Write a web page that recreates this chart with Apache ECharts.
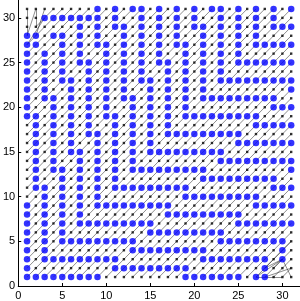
<!DOCTYPE html>
<html><head><meta charset="utf-8">
<script src="https://cdn.jsdelivr.net/npm/echarts@6/dist/echarts.min.js"></script>
<style>html,body{margin:0;padding:0;background:#fff}#c{width:300px;height:301px}</style>
</head><body><div id="c"></div>
<script>
const tickValues = [0, 5, 10, 15, 20, 25, 30];
// rows from y=31 (top) to y=1 (bottom); columns x=1..31; 'B' = blue point, '.' = black point
const pointRows = [
"........B.B.BB.B.B.B.BB.B.B.B.B",
"..BBBBBBB.B..B.B.B.B..B.B.B.B..",
"......B.B.BB.B.B.B.BB.B.B.B.BBB",
"BB.BB.B.B..B.B.B.B..B.B.B.B....",
"BB..B.B.BB.B.B.B.BB.B.B.B.BBBBB",
"B.B.B.B..B.B.B.B..B.B.B.B......",
"B.B.B.BB.B.B.B.BB.B.B.B.BBBBBBB",
"B.B.B..B.B.B.B..B.B.B.B........",
"B.B.BB.B.B.B.BB.B.B.B.BBBBBBBBB",
"B.B..B.B.B.B..B.B.B.B.........B",
"B.BB.B.B.B.BB.B.B.B.BBBBBBBBB..",
"B..B.B.B.B..B.B.B.B.........BBB",
"BB.B.B.B.BB.B.B.B.BBBBBBBBB....",
".B.B.B.B..B.B.B.B.........BBBBB",
".B.B.B.BB.B.B.B.BBBBBBBBB......",
".B.B.B..B.B.B.B.........BBBBBBB",
".B.B.BB.B.B.B.BBBBBBBBB........",
".B.B..B.B.B.B.........BBBBBBBBB",
".B.BB.B.B.B.BBBBBBBBB.........B",
".B..B.B.B.B.........BBBBBBBBB..",
".BB.B.B.B.BBBBBBBBB.........BBB",
"..B.B.B.B.........BBBBBBBBB....",
"B.B.B.B.BBBBBBBBB.........BBBBB",
"B.B.B.B.........BBBBBBBBB......",
"B.B.B.BBBBBBBBB.........BBBBBBB",
"B.B.B.........BBBBBBBBB........",
"B.B.BBBBBBBBB.........BBBBBBBB.",
"B.B.........BBBBBBBBB........B.",
"B.BBBBBBBBB.........BBBBBBBB.B.",
"B.........BBBBBBBBB........B...",
"BBBBBBBBB.........BBBBBBB.BB..."
];
// diagonal link lines [x1, y1, x2, y2]
const diagonalLines = [
[1,27,5,31],[1,26,6,31],[1,25,7,31],[1,24,8,31],[1,23,9,31],[1,22,10,31],[1,21,11,31],
[1,20,12,31],[1,19,13,31],[1,18,14,31],[1,17,15,31],[1,16,16,31],[1,15,17,31],[1,14,18,31],[1,13,19,31],[1,12,20,31],[1,11,21,31],
[1,10,22,31],[1,9,23,31],[1,8,24,31],[1,7,25,31],[1,6,26,31],[1,5,27,31],[1,4,28,31],[1,3,29,31],[1,2,30,31],[1,1,31,31],
[2,1,31,30],[3,1,31,29],[4,1,31,28],[5,1,31,27],[6,1,31,26],[7,1,31,25],[8,1,31,24],[9,1,31,23],[10,1,31,22],[11,1,31,21],
[12,1,31,20],[13,1,31,19],[14,1,31,18],[15,1,31,17],[16,1,31,16],[17,1,31,15],[18,1,31,14],[19,1,31,13],[20,1,31,12],[21,1,31,11],
[22,1,31,10],[23,1,31,9],[24,1,31,8],[25,1,31,7],[26,1,31,6],[27,1,31,5],[28,2,31,5],[29,2,31,4],[30,1,31,2]
];
// irregular links near the two corners [x1, y1, x2, y2]
const cornerLines = [
[1,31,1,28],[2,31,2,29],[1,28,2,31],[1,27,3,30],[2,28,3,31],[3,30,4,31],[2,29,3,30],
[27,1,30,1],[27,1,30,3],[28,1,30,3],[28,2,30,3],[28,1,31,2],[30,3,31,1],[29,1,31,3]
];

const blue = [], black = [];
pointRows.forEach((row, r) => {
  const y = pointRows.length - r;
  for (let c = 0; c < row.length; c++) {
    (row[c] === 'B' ? blue : black).push([c + 1, y]);
  }
});
const lineData = diagonalLines.concat(cornerLines).map(s => ({coords: [[s[0], s[1]], [s[2], s[3]]]}));

const chart = echarts.init(document.getElementById('c'), null, {renderer: 'canvas'});
const axisCommon = {
  type: 'value', min: 0, max: 32,
  axisLine: {show: true, onZero: false, lineStyle: {color: '#000', width: 1}},
  axisTick: {show: true, inside: true, length: 3, lineStyle: {color: '#000'}, customValues: tickValues},
  axisLabel: {color: '#000', fontSize: 11, fontFamily: 'Liberation Sans, Arial, sans-serif', customValues: tickValues},
  splitLine: {show: false}
};
chart.setOption({
  animation: false,
  backgroundColor: '#fff',
  grid: {left: 15, right: 0, top: 0, bottom: 14, containLabel: false},
  xAxis: Object.assign({}, axisCommon, {axisLabel: Object.assign({}, axisCommon.axisLabel, {margin: 4})}),
  yAxis: Object.assign({}, axisCommon, {axisLabel: Object.assign({}, axisCommon.axisLabel, {margin: 3})}),
  series: [
    {type: 'lines', coordinateSystem: 'cartesian2d', data: lineData, silent: true,
     lineStyle: {color: '#000', width: 0.6, opacity: 0.75}, z: 1},
    {type: 'scatter', data: black, symbol: 'rect', symbolSize: 2.4, itemStyle: {color: '#000'}, silent: true, z: 2},
    {type: 'scatter', data: blue, symbol: 'circle', symbolSize: 6.5, itemStyle: {color: '#0000ff'}, silent: true, z: 3}
  ]
});
</script></body></html>
